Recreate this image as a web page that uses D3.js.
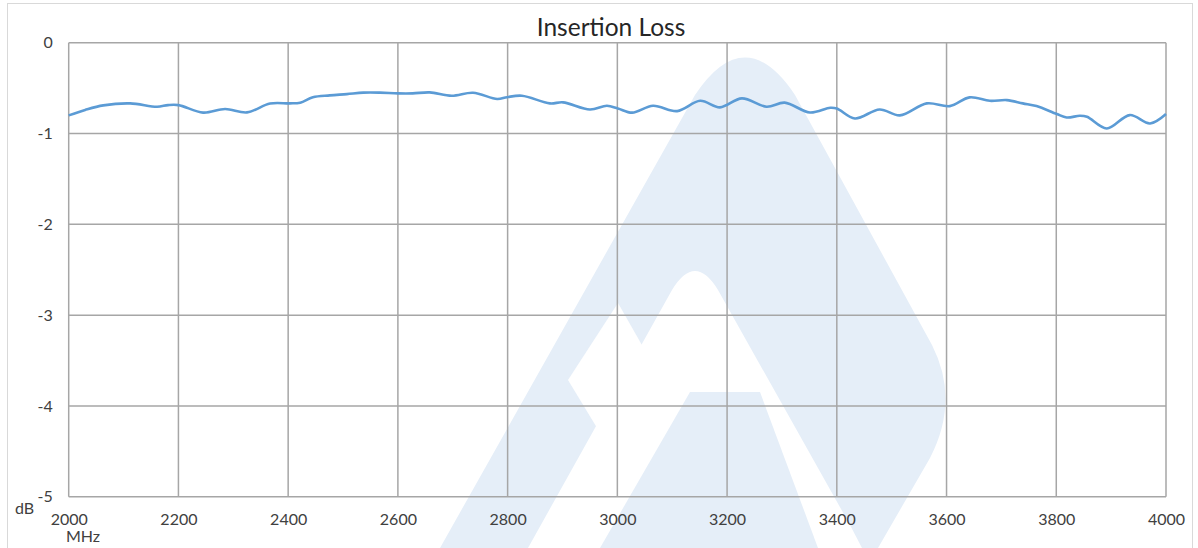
<!DOCTYPE html>
<html><head><meta charset="utf-8">
<script src="https://cdn.jsdelivr.net/npm/d3@7"></script>
<style>html,body{margin:0;padding:0;background:#fff;}svg{display:block;}</style>
</head><body>
<svg id="chart" width="1198" height="548"></svg>
<script>
const title = "Insertion Loss";
const xTicks = [2000,2200,2400,2600,2800,3000,3200,3400,3600,3800,4000];
const yTicks = [0,-1,-2,-3,-4,-5];
const freqMHz = [2000,2030,2063,2112,2161,2181,2200,2245,2285,2325,2367,2403,2422,2445,2476,2507,2537,2567,2600,2627,2658,2698,2737,2781,2799,2826,2877,2901,2950,2981,3001,3027,3065,3109,3151,3187,3227,3272,3305,3351,3388,3400,3433,3478,3515,3564,3606,3642,3679,3710,3739,3764,3801,3819,3843,3856,3892,3934,3971,4000];
const lossDb = [-0.80,-0.74,-0.69,-0.668,-0.705,-0.687,-0.687,-0.77,-0.73,-0.767,-0.67,-0.668,-0.66,-0.60,-0.58,-0.566,-0.55,-0.55,-0.558,-0.558,-0.547,-0.584,-0.551,-0.62,-0.60,-0.584,-0.668,-0.657,-0.735,-0.695,-0.724,-0.77,-0.695,-0.753,-0.64,-0.712,-0.613,-0.705,-0.66,-0.768,-0.716,-0.724,-0.834,-0.735,-0.80,-0.668,-0.698,-0.602,-0.64,-0.632,-0.668,-0.698,-0.786,-0.823,-0.805,-0.816,-0.944,-0.797,-0.889,-0.786];

const svg = d3.select("#chart");
const L = 68.7, R = 1166, T = 42.7, B = 496.8;
const x = d3.scaleLinear().domain([2000,4000]).range([L,R]);
const y = d3.scaleLinear().domain([-5,0]).range([B,T]);
const font = "Lato, 'Open Sans', sans-serif";
const fmt = d => String(d);

// watermark
const wm = svg.append("g").attr("fill","#e5eef8");
wm.append("path").attr("fill-rule","evenodd")
  .attr("d","M440,548 L695,95 Q745,20 795,95 L932,345 Q960,400 930,458 L878,548 Z " +
            "M528,548 L672,290 Q695,252 718,290 L850,525 L862,548 Z");
wm.append("path").attr("d","M600,548 L690,392 L760,392 L818,548 Z");
wm.append("path").attr("d","M568,380 L608,446 L655,368 L618,303 Z").attr("fill","#fff");

// outer border
svg.append("rect").attr("x",7.5).attr("y",3.5).attr("width",1185).attr("height",560)
  .attr("fill","none").attr("stroke","#d9d9d9").attr("stroke-width",1);

// grid
const grid = svg.append("g").attr("stroke","#a6a6a6").attr("stroke-width",1.5);
grid.selectAll("line.v").data(xTicks).join("line")
  .attr("x1",d=>x(d)).attr("x2",d=>x(d)).attr("y1",T).attr("y2",B);
grid.selectAll("line.h").data(yTicks).join("line")
  .attr("x1",L).attr("x2",R).attr("y1",d=>y(d)).attr("y2",d=>y(d));

// axes labels
const yAxis = d3.axisLeft(y).tickValues(yTicks).tickSize(0).tickPadding(16).tickFormat(fmt);
const gy = svg.append("g").attr("transform",`translate(${L},0)`).call(yAxis);
gy.select(".domain").remove();
gy.selectAll("text").attr("font-family",font).attr("font-size",16).attr("fill","#404040");

const xAxis = d3.axisBottom(x).tickValues(xTicks).tickSize(0).tickPadding(17).tickFormat(fmt);
const gx = svg.append("g").attr("transform",`translate(0,${B})`).call(xAxis);
gx.select(".domain").remove();
gx.selectAll("text").attr("font-family",font).attr("font-size",16).attr("fill","#404040");

svg.append("text").attr("x",15).attr("y",514).attr("font-family",font).attr("font-size",16)
  .attr("fill","#404040").text("dB");
svg.append("text").attr("x",83).attr("y",542).attr("text-anchor","middle").attr("font-family",font)
  .attr("font-size",16).attr("fill","#404040").text("MHz");

svg.append("text").attr("x",611).attr("y",36).attr("text-anchor","middle").attr("font-family",font)
  .attr("font-size",24.5).attr("fill","#262626").text(title);

// line
const data = freqMHz.map((f,i)=>({f, v: lossDb[i]}));
svg.append("path").datum(data)
  .attr("fill","none").attr("stroke","#5b9bd5").attr("stroke-width",2.6)
  .attr("stroke-linejoin","round")
  .attr("d", d3.line().x(d=>x(d.f)).y(d=>y(d.v)).curve(d3.curveCatmullRom.alpha(0.5)));
</script>
</body></html>
